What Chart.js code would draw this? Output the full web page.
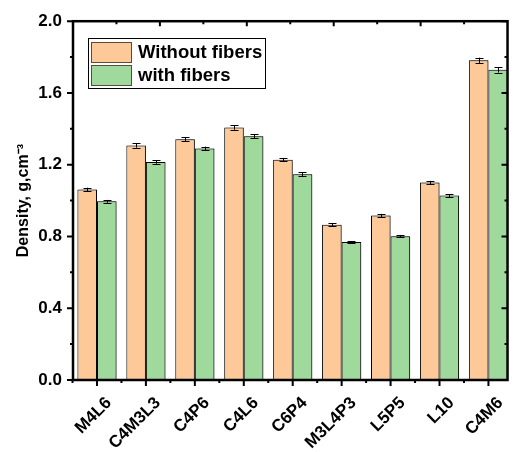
<!DOCTYPE html>
<html>
<head>
<meta charset="utf-8">
<script src="https://cdn.jsdelivr.net/npm/chart.js@4.4.1/dist/chart.umd.min.js"></script>
<style>
  html, body { margin: 0; padding: 0; background: #fff; }
  #wrap { width: 516px; height: 452px; }
</style>
</head>
<body>
<div id="wrap"><canvas id="c" width="516" height="452"></canvas></div>
<script>
// Données
const categories = ['M4L6', 'C4M3L3', 'C4P6', 'C4L6', 'C6P4', 'M3L4P3', 'L5P5', 'L10', 'C4M6']
const withoutFibers = [1.062, 1.307, 1.342, 1.407, 1.228, 0.866, 0.917, 1.101, 1.782]
const withFibers = [0.996, 1.215, 1.291, 1.358, 1.147, 0.769, 0.801, 1.028, 1.729]
const withoutErr = [0.010, 0.012, 0.012, 0.012, 0.010, 0.008, 0.009, 0.009, 0.015]
const withErr = [0.008, 0.010, 0.010, 0.011, 0.010, 0.006, 0.006, 0.008, 0.015]
const yTicks = [0, 0.4, 0.8, 1.2, 1.6, 2.0]

const ORANGE = '#FDC998'
const GREEN = '#9FD99B'
const FONT = 'Arial, "Liberation Sans", sans-serif'

// Barres d'erreur
const errorBars = {
  id: 'errorBars',
  afterDatasetsDraw(chart) {
    const ctx = chart.ctx
    const y = chart.scales.y
    ctx.save()
    ctx.strokeStyle = '#000'
    ctx.lineWidth = 1
    chart.data.datasets.forEach((ds, di) => {
      const meta = chart.getDatasetMeta(di)
      meta.data.forEach((bar, i) => {
        const v = ds.data[i].y
        const e = ds.errors[i]
        const top = y.getPixelForValue(v + e)
        const bot = y.getPixelForValue(v - e)
        const x = Math.round(bar.x) + 0.5
        ctx.beginPath()
        ctx.moveTo(x, top); ctx.lineTo(x, bot)
        ctx.moveTo(x - 4, Math.round(top) + 0.5); ctx.lineTo(x + 4, Math.round(top) + 0.5)
        ctx.moveTo(x - 4, Math.round(bot) + 0.5); ctx.lineTo(x + 4, Math.round(bot) + 0.5)
        ctx.stroke()
      })
    })
    ctx.restore()
  }
}

// Ombre des barres (style Origin)
const barShadow = {
  id: 'barShadow',
  beforeDatasetsDraw(chart) {
    const ctx = chart.ctx
    ctx.save()
    ctx.shadowColor = 'rgba(0,0,0,0.35)'
    ctx.shadowOffsetX = 1.5
    ctx.shadowOffsetY = 0
    ctx.shadowBlur = 2
  },
  afterDatasetsDraw(chart) {
    chart.ctx.restore()
  }
}

// Cadre + graduations
const frame = {
  id: 'frame',
  afterDraw(chart) {
    const ctx = chart.ctx
    const { left, right, top, bottom } = chart.chartArea
    const x = chart.scales.x
    const y = chart.scales.y
    ctx.save()
    ctx.strokeStyle = '#000'
    ctx.lineWidth = 2.5
    ctx.strokeRect(left, top, right - left, bottom - top)

    ctx.lineWidth = 2
    ctx.beginPath()
    // axe Y : majeures tous les 0.4, mineures à 0.2
    for (let k = 0; k <= 10; k++) {
      const py = y.getPixelForValue(k * 0.2)
      const len = k % 2 === 0 ? 6 : 3
      ctx.moveTo(left, py); ctx.lineTo(left - len, py)
      ctx.moveTo(right, py); ctx.lineTo(right - len, py)
    }
    // axe X bas
    categories.forEach((c, i) => {
      const px = x.getPixelForValue(i)
      ctx.moveTo(px, bottom); ctx.lineTo(px, bottom + 6)
      const pm = x.getPixelForValue(i - 0.5)
      if (pm >= left - 1) { ctx.moveTo(pm, bottom); ctx.lineTo(pm, bottom + 3) }
    })
    // axe X haut (graduations intérieures)
    const w = right - left
    for (let i = 1; i <= 9; i++) {
      const px = left + i * w / 10
      const len = i % 2 === 0 ? 5 : 3
      ctx.moveTo(px, top); ctx.lineTo(px, top + len)
    }
    ctx.stroke()
    ctx.restore()
  }
}

// Légende encadrée
const legendBox = {
  id: 'legendBox',
  afterDraw(chart) {
    const ctx = chart.ctx
    const bx = 88, by = 38
    ctx.save()
    ctx.fillStyle = '#fff'
    ctx.fillRect(bx, by, 177, 50)
    ctx.strokeStyle = '#000'
    ctx.lineWidth = 1
    ctx.strokeRect(bx + 0.5, by + 0.5, 177, 50)
    ctx.font = 'bold 18.5px ' + FONT
    ctx.textBaseline = 'middle'
    chart.data.datasets.forEach((ds, i) => {
      const sy = by + 4 + i * 23
      ctx.fillStyle = ds.backgroundColor
      ctx.fillRect(bx + 3, sy, 41, 20)
      ctx.strokeStyle = '#5a4a3a'
      ctx.strokeRect(bx + 3.5, sy + 0.5, 40, 20)
      ctx.fillStyle = '#000'
      ctx.fillText(ds.label, bx + 50, sy + 11)
    })
    ctx.restore()
  }
}

const mkData = (vals) => vals.map((v, i) => ({ x: i, y: v }))

new Chart(document.getElementById('c'), {
  type: 'bar',
  data: {
    datasets: [
      {
        label: 'Without fibers',
        data: mkData(withoutFibers),
        errors: withoutErr,
        backgroundColor: ORANGE,
        borderColor: '#000',
        borderWidth: 1,
        categoryPercentage: 0.8,
        barPercentage: 1.0,
      },
      {
        label: 'with fibers',
        data: mkData(withFibers),
        errors: withErr,
        backgroundColor: GREEN,
        borderColor: '#000',
        borderWidth: 1,
        categoryPercentage: 0.8,
        barPercentage: 1.0,
      },
    ],
  },
  options: {
    animation: false,
    responsive: false,
    devicePixelRatio: 1,
    layout: { padding: { top: 20, right: 3, left: 0, bottom: 0 } },
    plugins: {
      legend: { display: false },
      tooltip: { enabled: false },
    },
    scales: {
      x: {
        type: 'linear',
        offset: false,
        min: -0.49,
        max: 8.39,
        grid: { display: true, offset: false, drawOnChartArea: false, drawTicks: false },
        border: { display: false },
        afterBuildTicks: (s) => { s.ticks = categories.map((c, i) => ({ value: i })) },
        afterFit: (s) => { s.height = 72 },
        ticks: {
          callback: (v) => categories[v],
          minRotation: 45,
          maxRotation: 45,
          autoSkip: false,
          labelOffset: 12,
          padding: 13,
          color: '#000',
          font: { family: FONT, size: 17, weight: 'bold' },
        },
      },
      y: {
        min: 0,
        max: 2.0,
        grid: { display: true, drawOnChartArea: false, drawTicks: false },
        border: { display: false },
        afterBuildTicks: (s) => { s.ticks = yTicks.map(v => ({ value: v })) },
        afterFit: (s) => { s.width = 73 },
        ticks: {
          callback: (v) => v.toFixed(1),
          padding: 11,
          color: '#000',
          font: { family: FONT, size: 17, weight: 'bold' },
        },
        title: {
          display: true,
          text: 'Density, g,cm⁻³',
          color: '#000',
          padding: { top: 14, bottom: 0 },
          font: { family: FONT, size: 16, weight: 'bold' },
        },
      },
    },
  },
  plugins: [barShadow, errorBars, frame, legendBox],
})
</script>
</body>
</html>
